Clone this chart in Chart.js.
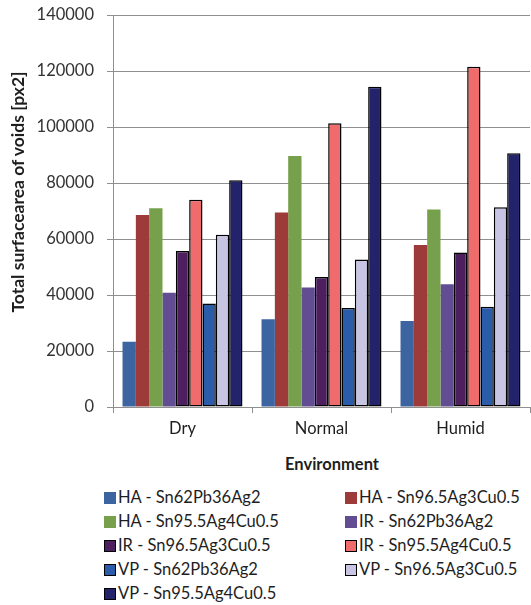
<!DOCTYPE html>
<html>
<head>
<meta charset="utf-8">
<script src="https://cdn.jsdelivr.net/npm/chart.js@4/dist/chart.umd.min.js"></script>
<style>
  html, body { margin: 0; padding: 0; background: #fff; }
  #wrap { position: relative; width: 531px; height: 605px; overflow: hidden; font-family: Lato, "Open Sans", sans-serif; }
  #box { position: absolute; left: 0; top: 0; width: 531px; height: 450px; }
  #ytitle { position: absolute; left: -132px; top: 182px; width: 300px; height: 20px; line-height: 20px; text-align: center;
            transform: rotate(-90deg); font-weight: bold; font-size: 17.5px; color: #1e1e1e; white-space: nowrap; }
  #xtitle { position: absolute; top: 454px; left: 232px; width: 200px; text-align: center; font-weight: bold; font-size: 16.5px; color: #1e1e1e; line-height: 20px; }
  .leg { position: absolute; font-size: 16.5px; color: #1e1e1e; line-height: 20px; white-space: nowrap; }
  .leg i { display: inline-block; width: 12px; height: 12px; margin-right: 2px; vertical-align: -1px; box-sizing: border-box; }
</style>
</head>
<body>
<div id="wrap">
  <div id="box"><canvas id="c"></canvas></div>
  <div id="ytitle">Total surfacearea of voids [px2]</div>
  <div id="xtitle">Environment</div>
  <div id="legend"></div>
</div>
<script>
// Environments on the x axis
const environments = ['Dry', 'Normal', 'Humid'];

// Series: soldering process - alloy
const seriesNames = [
  'HA - Sn62Pb36Ag2', 'HA - Sn96.5Ag3Cu0.5', 'HA - Sn95.5Ag4Cu0.5',
  'IR - Sn62Pb36Ag2', 'IR - Sn96.5Ag3Cu0.5', 'IR - Sn95.5Ag4Cu0.5',
  'VP - Sn62Pb36Ag2', 'VP - Sn96.5Ag3Cu0.5', 'VP - Sn95.5Ag4Cu0.5'
];

// Total void area [px2] per environment (Dry, Normal, Humid)
const haSnPb   = [23300, 31300, 30700];
const haSac305 = [68600, 69500, 57900];
const haSac405 = [71000, 89600, 70500];
const irSnPb   = [40800, 42700, 43800];
const irSac305 = [55700, 46400, 55200];
const irSac405 = [74000, 101300, 121500];
const vpSnPb   = [37000, 35400, 35800];
const vpSac305 = [61500, 52700, 71300];
const vpSac405 = [81000, 114400, 90600];

const yTicks = [0, 20000, 40000, 60000, 80000, 100000, 120000, 140000];

const seriesValues = [haSnPb, haSac305, haSac405, irSnPb, irSac305, irSac405, vpSnPb, vpSac305, vpSac405];
const fills = ['#3b64a0', '#9c3b3a', '#76a04b', '#624d92', '#4d1f5e', '#f06b6b', '#2a5caa', '#c8c4e4', '#23236b'];
const outlined = [false, false, false, false, true, true, true, true, true];

const datasets = seriesNames.map((name, i) => ({
  label: name,
  data: seriesValues[i],
  backgroundColor: fills[i],
  borderColor: outlined[i] ? '#000' : fills[i],
  borderWidth: outlined[i] ? 1.5 : 0,
  borderSkipped: false,
  categoryPercentage: 0.863,
  barPercentage: 1.0
}));

const gridGray = '#8f8f8f';

new Chart(document.getElementById('c'), {
  type: 'bar',
  data: { labels: environments, datasets },
  options: {
    responsive: true,
    maintainAspectRatio: false,
    animation: false,
    layout: { padding: { top: 8, right: 1, bottom: 0, left: 0 } },
    plugins: { legend: { display: false }, tooltip: { enabled: false } },
    scales: {
      x: {
        grid: { display: true, drawOnChartArea: false, drawTicks: true, tickLength: 6, color: gridGray, offset: true },
        border: { display: true, color: gridGray, width: 1 },
        ticks: { padding: 6, color: '#1e1e1e', font: { family: 'Lato', size: 16.5 } },
        afterFit: s => { s.height = 43; }
      },
      y: {
        min: 0,
        max: 140000,
        afterBuildTicks: s => { s.ticks = yTicks.map(v => ({ value: v })); },
        grid: { color: gridGray, lineWidth: 1, tickLength: 6 },
        border: { display: true, color: gridGray, width: 1 },
        ticks: { padding: 13, color: '#333', font: { family: 'Lato', size: 16.5, lineHeight: '4px' }, callback: v => String(v) },
        afterFit: s => { s.width = 113; }
      }
    }
  }
});

// Two-column legend built from the series list
const legend = document.getElementById('legend');
seriesNames.forEach((name, i) => {
  const col = i % 2, row = Math.floor(i / 2);
  const el = document.createElement('div');
  el.className = 'leg';
  el.style.left = (col === 0 ? 104 : 345) + 'px';
  el.style.top = (487 + row * 24) + 'px';
  const sw = document.createElement('i');
  sw.style.background = fills[i];
  if (outlined[i]) sw.style.border = '1.5px solid #000';
  el.appendChild(sw);
  el.appendChild(document.createTextNode(name));
  legend.appendChild(el);
});
</script>
</body>
</html>
